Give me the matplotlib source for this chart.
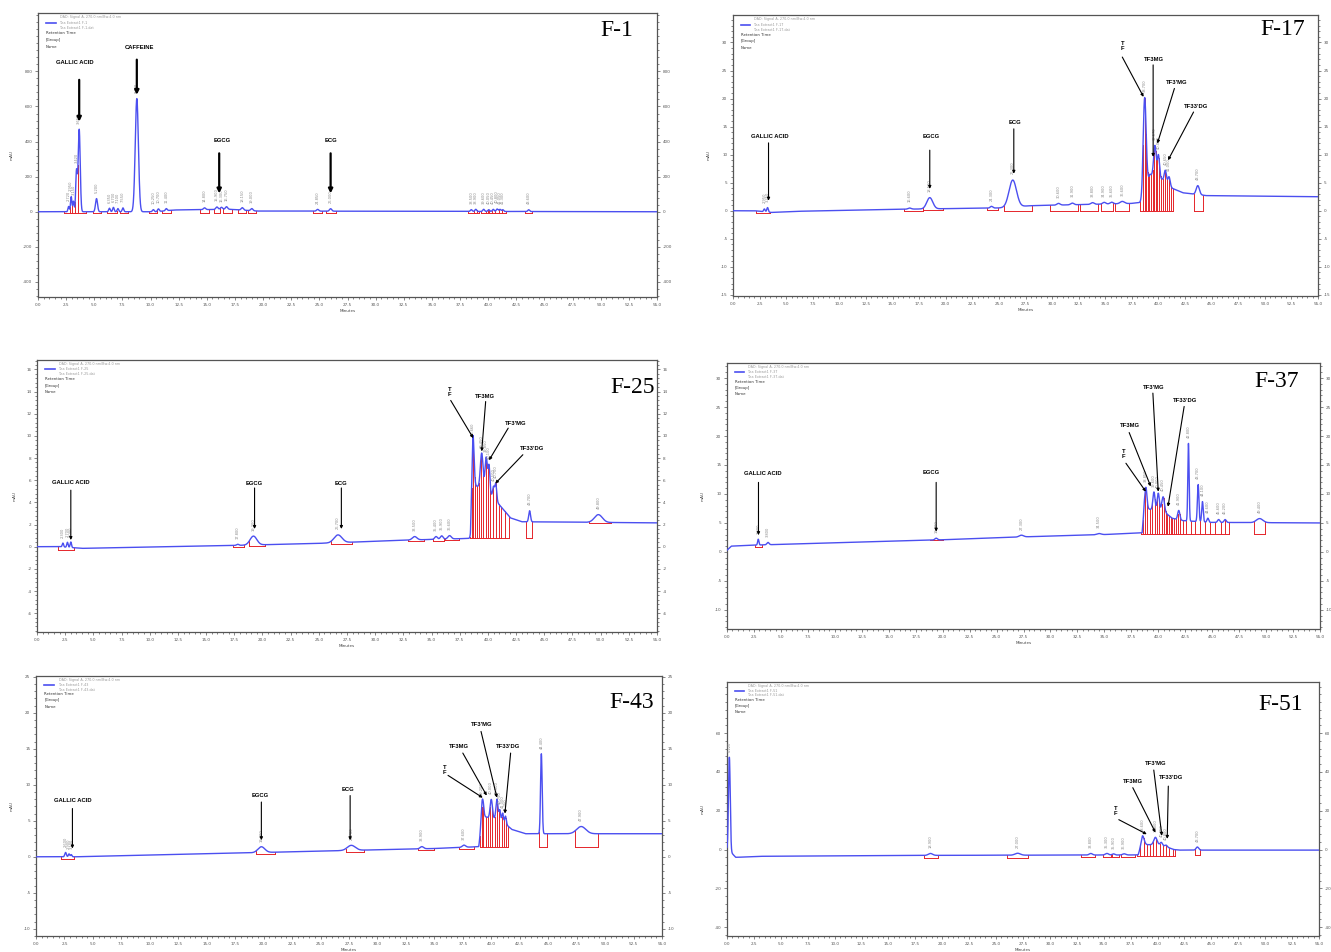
import numpy as np
import matplotlib
matplotlib.use("Agg")
import matplotlib.pyplot as plt
from matplotlib.ticker import MultipleLocator, AutoMinorLocator, FormatStrFormatter

# ---------------- F-1 ----------------
f1_bl_t = [0, 10.5, 12.0, 17.0, 19.5, 55]
f1_bl_y = [0, 0, 10, 14, 4, 0]
f1_pk_t = [2.72, 2.95, 3.15, 3.42, 3.66, 5.20, 6.35, 6.70, 7.10, 7.55, 8.78, 10.25, 10.70,
           11.40, 14.80, 15.90, 16.30, 16.75, 18.15, 19.00, 24.85, 26.00, 38.50, 38.90,
           39.60, 40.05, 40.45, 40.80, 41.05, 41.30, 43.60]
f1_pk_h = [30, 86, 60, 230, 470, 75, 20, 25, 18, 22, 645, 12, 15, 12, 10, 14, 12, 15, 14,
           12, 10, 14, 10, 12, 12, 10, 12, 14, 12, 10, 10]
f1_pk_w = [0.06, 0.06, 0.06, 0.07, 0.09, 0.09, 0.07, 0.07, 0.07, 0.07, 0.14, 0.08, 0.08,
           0.08, 0.1, 0.1, 0.1, 0.1, 0.1, 0.1, 0.1, 0.1, 0.08, 0.08, 0.08, 0.08, 0.08,
           0.08, 0.08, 0.08, 0.08]
f1_win_s = [2.3, 4.9, 6.1, 7.3, 9.9, 11.0, 14.4, 15.6, 16.4, 17.8, 18.7, 24.4, 25.6, 38.2,
            39.4, 40.1, 43.3]
f1_win_e = [4.3, 5.6, 7.0, 8.0, 10.6, 11.8, 15.2, 16.2, 17.2, 18.5, 19.4, 25.2, 26.5, 39.2,
            40.0, 41.6, 43.9]
f1_win_b = [-8] * 17
f1_drop_t = [2.85, 3.05, 3.3, 3.55, 38.7, 39.0, 39.8, 40.3, 40.6, 40.95, 41.2]
f1_drop_b = -8
f1_names = ["GALLIC ACID", "CAFFEINE", "EGCG", "ECG"]
f1_txt_x = [3.24, 8.97, 16.4, 26.07]
f1_txt_y = [853, 937, 404, 404]
f1_tail_x = [3.66, 8.78, 16.1, 26.0]
f1_tail_y = [752, 867, 333, 333]
f1_tip_x = [3.66, 8.78, 16.1, 26.0]
f1_tip_y = [514, 667, 105, 105]

# ---------------- F-17 ----------------
f17_bl_t = [0, 2.0, 3.6, 6.0, 17.0, 25.0, 28.0, 37.4, 38.45, 39.2, 40.5, 41.3, 42.3, 44.5, 55]
f17_bl_y = [0, 0, -0.3, -0.1, 0.3, 0.5, 0.9, 1.3, 1.5, 6.5, 5.5, 4.0, 3.2, 2.7, 2.5]
f17_pk_t = [2.95, 3.25, 16.6, 18.5, 24.3, 26.3, 30.6, 31.9, 33.8, 34.9, 35.6, 36.6, 38.7,
            39.67, 40.0, 40.65, 41.0, 43.7]
f17_pk_h = [0.5, 0.8, 0.2, 2.0, 0.3, 4.8, 0.3, 0.3, 0.3, 0.3, 0.3, 0.4, 17.0, 5.5, 4.0,
            2.0, 1.5, 1.6]
f17_pk_w = [0.07, 0.07, 0.15, 0.28, 0.12, 0.35, 0.15, 0.15, 0.15, 0.15, 0.15, 0.2, 0.14,
            0.12, 0.1, 0.1, 0.1, 0.15]
f17_win_s = [2.2, 16.1, 17.9, 23.9, 25.5, 29.8, 32.6, 34.6, 35.9, 38.3, 43.3]
f17_win_e = [3.5, 17.9, 19.7, 24.9, 28.1, 32.4, 34.3, 35.7, 37.2, 41.4, 44.2]
f17_win_b = [-0.4, 0, 0.2, 0.2, 0, 0, 0, 0, 0, 0, 0]
f17_drop_t = [38.55, 38.7, 38.85, 39.0, 39.15, 39.3, 39.45, 39.6, 39.75, 39.9, 40.05, 40.2,
              40.4, 40.6, 40.8, 41.0, 41.2]
f17_drop_b = 0
f17_names = ["GALLIC ACID", "EGCG", "ECG", "T\nF", "TF3MG", "TF3'MG", "TF33'DG"]
f17_txt_x = [3.46, 18.6, 26.5, 36.6, 39.6, 41.7, 43.5]
f17_txt_y = [13.2, 13.2, 15.8, 29.4, 27.0, 22.9, 18.6]
f17_tail_x = [3.34, 18.5, 26.4, 36.6, 39.5, 41.5, 43.3]
f17_tail_y = [12.1, 10.8, 14.6, 27.4, 26.0, 21.8, 17.6]
f17_tip_x = [3.34, 18.5, 26.4, 38.6, 39.5, 39.9, 40.9]
f17_tip_y = [1.8, 3.9, 6.6, 20.3, 9.6, 12.0, 9.0]

# ---------------- F-25 ----------------
f25_bl_t = [0, 2.0, 4.0, 17.0, 25.0, 33.0, 38.45, 38.7, 40.0, 41.0, 42.0, 43.0, 55]
f25_bl_y = [0, 0, -0.15, 0.1, 0.3, 0.6, 0.75, 5.6, 5.0, 3.8, 2.6, 2.25, 2.15]
f25_pk_t = [2.3, 2.7, 3.0, 17.8, 19.2, 26.7, 33.5, 35.4, 35.9, 36.6, 38.66, 39.45, 39.85,
            40.1, 40.5, 40.7, 43.7, 49.8]
f25_pk_h = [0.35, 0.45, 0.5, 0.1, 0.8, 0.7, 0.3, 0.25, 0.3, 0.3, 4.8, 3.2, 3.0, 2.4, 1.0,
            1.5, 1.0, 0.7]
f25_pk_w = [0.06, 0.06, 0.06, 0.1, 0.3, 0.35, 0.2, 0.12, 0.12, 0.15, 0.1, 0.12, 0.1, 0.08,
            0.08, 0.08, 0.08, 0.35]
f25_win_s = [1.9, 17.4, 18.8, 26.1, 32.9, 35.1, 36.2, 38.4, 43.4, 49.0]
f25_win_e = [3.3, 18.4, 20.2, 27.9, 34.3, 36.1, 37.4, 41.9, 43.9, 50.9]
f25_win_b = [-0.3, 0.0, 0.1, 0.25, 0.5, 0.55, 0.6, 0.8, 0.8, 2.1]
f25_drop_t = [38.55, 38.7, 38.85, 39.0, 39.2, 39.4, 39.6, 39.8, 40.0, 40.2, 40.45, 40.7,
              40.95, 41.2, 41.5]
f25_drop_b = 0.8
f25_names = ["GALLIC ACID", "EGCG", "ECG", "T\nF", "TF3MG", "TF3'MG", "TF33'DG"]
f25_txt_x = [3.0, 19.3, 26.95, 36.6, 39.7, 42.5, 43.9]
f25_txt_y = [5.8, 5.7, 5.7, 14.0, 13.6, 11.1, 8.9]
f25_tail_x = [3.0, 19.3, 27.0, 36.7, 39.8, 41.8, 43.1]
f25_tail_y = [5.1, 5.3, 5.3, 13.2, 13.1, 10.7, 8.3]
f25_tip_x = [3.0, 19.3, 27.0, 38.7, 39.45, 40.1, 40.65]
f25_tip_y = [0.6, 1.6, 1.6, 9.8, 8.6, 7.8, 5.7]

# ---------------- F-37 ----------------
f37_bl_t = [0, 0.4, 3.0, 20.0, 27.5, 35.0, 38.5, 38.7, 40.5, 41.3, 42.3, 44.8, 55]
f37_bl_y = [0.3, 1.0, 1.2, 2.1, 2.6, 3.0, 3.3, 7.5, 7.0, 5.8, 5.4, 5.1, 5.0]
f37_pk_t = [2.9, 3.8, 19.4, 27.3, 34.5, 38.85, 39.6, 40.0, 40.45, 41.9, 42.8, 43.7, 44.1,
            44.6, 45.6, 46.2, 49.4]
f37_pk_h = [1.0, 0.4, 0.3, 0.3, 0.2, 3.7, 3.1, 3.0, 2.5, 1.6, 13.4, 6.4, 3.5, 0.7, 0.5,
            0.5, 0.7]
f37_pk_w = [0.06, 0.1, 0.12, 0.2, 0.2, 0.1, 0.1, 0.1, 0.12, 0.1, 0.06, 0.07, 0.07, 0.08,
            0.1, 0.1, 0.3]
f37_win_s = [2.6, 18.8, 38.4, 48.9]
f37_win_e = [3.2, 20.0, 46.6, 49.9]
f37_win_b = [0.8, 2.0, 3.1, 3.1]
f37_drop_t = [38.6, 38.8, 39.0, 39.2, 39.45, 39.7, 39.9, 40.1, 40.3, 40.5, 40.7, 40.85,
              41.0, 41.15, 41.3, 41.45, 41.6, 41.8, 42.0, 42.3, 42.6, 43.0, 43.4, 43.9,
              44.3, 44.8, 45.3, 45.8, 46.2]
f37_drop_b = 3.1
f37_names = ["GALLIC ACID", "EGCG", "T\nF", "TF3MG", "TF3'MG", "TF33'DG"]
f37_txt_x = [3.35, 18.9, 36.8, 37.4, 39.6, 42.5]
f37_txt_y = [13.6, 13.7, 16.9, 21.9, 28.3, 26.2]
f37_tail_x = [2.92, 19.4, 37.0, 37.3, 39.5, 42.4]
f37_tail_y = [12.0, 12.0, 15.3, 20.6, 27.4, 25.1]
f37_tip_x = [2.92, 19.4, 38.85, 39.3, 40.0, 40.9]
f37_tip_y = [2.9, 3.5, 10.4, 11.3, 10.4, 7.8]

# ---------------- F-43 ----------------
f43_bl_t = [0, 3.5, 20.0, 28.0, 35.0, 38.9, 39.3, 40.5, 41.3, 41.8, 43.0, 55]
f43_bl_y = [0, 0, 0.6, 0.9, 1.15, 1.4, 5.6, 5.2, 4.5, 3.8, 3.2, 3.2]
f43_pk_t = [2.6, 2.9, 3.1, 19.8, 27.7, 33.9, 37.6, 39.2, 40.0, 40.5, 40.75, 41.0, 41.25,
            44.4, 47.9]
f43_pk_h = [0.6, 0.4, 0.3, 0.8, 0.7, 0.3, 0.3, 3.3, 2.6, 2.8, 1.5, 1.3, 1.1, 11.1, 1.0]
f43_pk_w = [0.07, 0.06, 0.06, 0.3, 0.35, 0.15, 0.15, 0.1, 0.1, 0.09, 0.07, 0.07, 0.07,
            0.07, 0.4]
f43_win_s = [2.2, 19.3, 27.2, 33.6, 37.2, 39.0, 44.2, 47.4]
f43_win_e = [3.3, 21.0, 28.8, 35.0, 38.5, 41.5, 44.9, 49.4]
f43_win_b = [-0.3, 0.4, 0.7, 1.0, 1.1, 1.4, 1.4, 1.4]
f43_drop_t = [39.15, 39.3, 39.5, 39.7, 39.9, 40.1, 40.3, 40.5, 40.7, 40.9, 41.1, 41.3]
f43_drop_b = 1.4
f43_names = ["GALLIC ACID", "EGCG", "ECG", "T\nF", "TF3MG", "TF3'MG", "TF33'DG"]
f43_txt_x = [3.2, 19.7, 27.4, 35.9, 37.2, 39.2, 41.5]
f43_txt_y = [7.8, 8.5, 9.3, 12.1, 15.3, 18.3, 15.3]
f43_tail_x = [3.2, 19.8, 27.6, 36.2, 37.5, 39.1, 41.7]
f43_tail_y = [6.7, 7.6, 8.5, 11.3, 14.4, 17.4, 14.4]
f43_tip_x = [3.2, 19.8, 27.6, 39.25, 39.6, 40.5, 41.2]
f43_tip_y = [1.15, 2.3, 2.3, 8.2, 8.5, 8.2, 6.0]

# ---------------- F-51 ----------------
f51_bl_t = [0, 0.15, 0.8, 1.0, 3.0, 20.0, 37.6, 38.2, 38.6, 40.3, 41.5, 42.0, 55]
f51_bl_y = [0, 0, -4, -4, -3.5, -3.0, -2.8, -2.8, 2.5, 2.5, 0, -0.3, -0.3]
f51_pk_t = [0.22, 18.9, 27.0, 33.8, 35.3, 35.9, 36.9, 38.6, 39.8, 40.35, 40.8, 43.7]
f51_pk_h = [48, 1.0, 1.0, 0.8, 0.8, 0.6, 0.6, 4.6, 3.8, 1.3, 0.8, 1.6]
f51_pk_w = [0.08, 0.2, 0.25, 0.15, 0.15, 0.12, 0.15, 0.15, 0.15, 0.1, 0.1, 0.12]
f51_win_s = [18.3, 26.0, 32.9, 34.9, 35.8, 36.6, 38.1, 43.5]
f51_win_e = [19.6, 28.0, 34.2, 35.7, 36.4, 37.9, 41.6, 43.9]
f51_win_b = [-4.5, -4.5, -4.0, -4.0, -4.0, -4.0, -3.5, -3.0]
f51_drop_t = [38.4, 38.7, 39.0, 39.3, 39.6, 39.9, 40.2, 40.5, 40.8, 41.1, 41.4]
f51_drop_b = -3.5
f51_names = ["T\nF", "TF3MG", "TF3'MG", "TF33'DG"]
f51_txt_x = [36.1, 37.7, 39.8, 41.3]
f51_txt_y = [20.1, 34.9, 44.3, 36.9]
f51_tail_x = [36.4, 37.7, 39.65, 41.0]
f51_tail_y = [15.4, 31.9, 41.0, 32.7]
f51_tip_x = [39.0, 39.8, 40.4, 40.9]
f51_tip_y = [7.9, 8.8, 7.1, 5.5]

BLUE = "#4b4ff0"
RED = "#e5252a"
W, H = 1331, 952


def signal(t, bl_t, bl_y, pk_t, pk_h, pk_w):
    y = np.interp(t, bl_t, bl_y)
    for c, h, w in zip(pk_t, pk_h, pk_w):
        y = y + h * np.exp(-0.5 * ((t - c) / w) ** 2)
    return y


def draw(p):
    l, t0, r, b = p["rect"]
    ax = fig.add_axes([l / W, 1 - b / H, (r - l) / W, (b - t0) / H])
    sig = lambda x: signal(np.asarray(x, float), p["bl_t"], p["bl_y"],
                           p["pk_t"], p["pk_h"], p["pk_w"])
    t = np.linspace(0, 55, 8001)
    y0, y1 = p["ylim"]
    rng = y1 - y0

    # integration marks
    for s, e, bb in zip(p["win_s"], p["win_e"], p["win_b"]):
        ax.plot([s, e], [bb, bb], color=RED, lw=0.7, zorder=2)
        for x in (s, e):
            ax.plot([x, x], [bb, sig(x)], color=RED, lw=0.7, zorder=2)
    for x in p["drop_t"]:
        ax.plot([x, x], [p["drop_b"], sig(x)], color=RED, lw=0.7, zorder=2)

    ax.plot(t, sig(t), color=BLUE, lw=1.0, zorder=3)

    # retention time labels
    for c in p["pk_t"]:
        ax.text(c, sig(c) + 0.02 * rng, "%.3f" % c, rotation=90, fontsize=2.6,
                color="#8a8a8a", ha="center", va="bottom", zorder=4)

    # compound labels
    for name, tx, ty, ax_, ay_, bx, by in zip(p["names"], p["txt_x"], p["txt_y"],
                                            p["tail_x"], p["tail_y"], p["tip_x"], p["tip_y"]):
        ax.annotate("", xy=(bx, by), xytext=(ax_, ay_),
                    arrowprops=dict(arrowstyle="-|>", color="black", lw=p["alw"],
                                    mutation_scale=p["ams"], shrinkA=0, shrinkB=0), zorder=5)
        ax.text(tx, ty, name, fontsize=4.2, fontweight="bold", family="Liberation Sans",
                ha="center", va="center", linespacing=1.0, zorder=5)

    # header block
    ax.plot([0.013, 0.029], [0.966, 0.966], color=BLUE, lw=1.2, transform=ax.transAxes)
    hdr = ["DAD: Signal A, 270.0 nm/Bw:4.0 nm", "Tea Extract1 " + p["tag"],
           "Tea Extract1 " + p["tag"] + ".dat"]
    for k, s in enumerate(hdr):
        ax.text(0.036, 0.985 - 0.019 * k, s, fontsize=2.4, color="#999999",
                transform=ax.transAxes, va="center")
    for k, s in enumerate(["Retention Time", "[Group]", "Name"]):
        ax.text(0.013, 0.93 - 0.024 * k, s, fontsize=2.8, color="#333333",
                transform=ax.transAxes, va="center")
    ax.text(p["lab_xy"][0], p["lab_xy"][1], p["tag"], fontsize=17, family="Liberation Serif",
            transform=ax.transAxes, ha="center", va="center", zorder=6)

    ax.set_xlim(0, 55)
    ax.set_ylim(y0, y1)
    ax.xaxis.set_major_locator(MultipleLocator(2.5))
    ax.xaxis.set_minor_locator(AutoMinorLocator(5))
    ax.xaxis.set_major_formatter(FormatStrFormatter("%.1f"))
    ax.set_yticks(p["yticks"])
    ax.yaxis.set_minor_locator(AutoMinorLocator(5))
    ax.yaxis.set_major_formatter(FormatStrFormatter("%g"))
    ax.tick_params(which="both", direction="out", labelsize=3, width=0.5,
                   right=True, labelright=True, colors="#555555", pad=1.5)
    ax.tick_params(which="major", length=2.5)
    ax.tick_params(which="minor", length=1.3)
    ax.set_xlabel("Minutes", fontsize=3, labelpad=1.5, color="#444444")
    ax.set_ylabel("mAU", fontsize=3, labelpad=7, color="#444444")
    for sp in ax.spines.values():
        sp.set_color("#555555")
        sp.set_linewidth(0.9)
    return ax


panels = [
    dict(tag="F-1", rect=(38, 13, 657, 297), ylim=(-486, 1133), yticks=range(-400, 1000, 200),
         bl_t=f1_bl_t, bl_y=f1_bl_y, pk_t=f1_pk_t, pk_h=f1_pk_h, pk_w=f1_pk_w,
         win_s=f1_win_s, win_e=f1_win_e, win_b=f1_win_b, drop_t=f1_drop_t, drop_b=f1_drop_b,
         names=f1_names, txt_x=f1_txt_x, txt_y=f1_txt_y, tail_x=f1_tail_x, tail_y=f1_tail_y,
         tip_x=f1_tip_x, tip_y=f1_tip_y, alw=1.6, ams=6, lab_xy=(0.935, 0.94)),
    dict(tag="F-17", rect=(733, 15, 1318, 296), ylim=(-15.2, 34.9), yticks=range(-15, 35, 5),
         bl_t=f17_bl_t, bl_y=f17_bl_y, pk_t=f17_pk_t, pk_h=f17_pk_h, pk_w=f17_pk_w,
         win_s=f17_win_s, win_e=f17_win_e, win_b=f17_win_b, drop_t=f17_drop_t, drop_b=f17_drop_b,
         names=f17_names, txt_x=f17_txt_x, txt_y=f17_txt_y, tail_x=f17_tail_x, tail_y=f17_tail_y,
         tip_x=f17_tip_x, tip_y=f17_tip_y, alw=0.8, ams=4, lab_xy=(0.94, 0.947)),
    dict(tag="F-25", rect=(37, 360, 657, 632), ylim=(-7.7, 16.85), yticks=range(-6, 18, 2),
         bl_t=f25_bl_t, bl_y=f25_bl_y, pk_t=f25_pk_t, pk_h=f25_pk_h, pk_w=f25_pk_w,
         win_s=f25_win_s, win_e=f25_win_e, win_b=f25_win_b, drop_t=f25_drop_t, drop_b=f25_drop_b,
         names=f25_names, txt_x=f25_txt_x, txt_y=f25_txt_y, tail_x=f25_tail_x, tail_y=f25_tail_y,
         tip_x=f25_tip_x, tip_y=f25_tip_y, alw=0.8, ams=4, lab_xy=(0.961, 0.90)),
    dict(tag="F-37", rect=(727, 363, 1320, 629), ylim=(-13.3, 32.6), yticks=range(-10, 35, 5),
         bl_t=f37_bl_t, bl_y=f37_bl_y, pk_t=f37_pk_t, pk_h=f37_pk_h, pk_w=f37_pk_w,
         win_s=f37_win_s, win_e=f37_win_e, win_b=f37_win_b, drop_t=f37_drop_t, drop_b=f37_drop_b,
         names=f37_names, txt_x=f37_txt_x, txt_y=f37_txt_y, tail_x=f37_tail_x, tail_y=f37_tail_y,
         tip_x=f37_tip_x, tip_y=f37_tip_y, alw=0.8, ams=4, lab_xy=(0.926, 0.93)),
    dict(tag="F-43", rect=(36, 676, 662, 936), ylim=(-11.0, 25.1), yticks=range(-10, 30, 5),
         bl_t=f43_bl_t, bl_y=f43_bl_y, pk_t=f43_pk_t, pk_h=f43_pk_h, pk_w=f43_pk_w,
         win_s=f43_win_s, win_e=f43_win_e, win_b=f43_win_b, drop_t=f43_drop_t, drop_b=f43_drop_b,
         names=f43_names, txt_x=f43_txt_x, txt_y=f43_txt_y, tail_x=f43_tail_x, tail_y=f43_tail_y,
         tip_x=f43_tip_x, tip_y=f43_tip_y, alw=0.8, ams=4, lab_xy=(0.952, 0.90)),
    dict(tag="F-51", rect=(727, 682, 1319, 936), ylim=(-44.6, 86.4), yticks=range(-40, 80, 20),
         bl_t=f51_bl_t, bl_y=f51_bl_y, pk_t=f51_pk_t, pk_h=f51_pk_h, pk_w=f51_pk_w,
         win_s=f51_win_s, win_e=f51_win_e, win_b=f51_win_b, drop_t=f51_drop_t, drop_b=f51_drop_b,
         names=f51_names, txt_x=f51_txt_x, txt_y=f51_txt_y, tail_x=f51_tail_x, tail_y=f51_tail_y,
         tip_x=f51_tip_x, tip_y=f51_tip_y, alw=0.8, ams=4, lab_xy=(0.936, 0.913)),
]

fig = plt.figure(figsize=(W / 100, H / 100), dpi=100)
for p in panels:
    draw(p)
fig.savefig("out.png", dpi=100, facecolor="white")
